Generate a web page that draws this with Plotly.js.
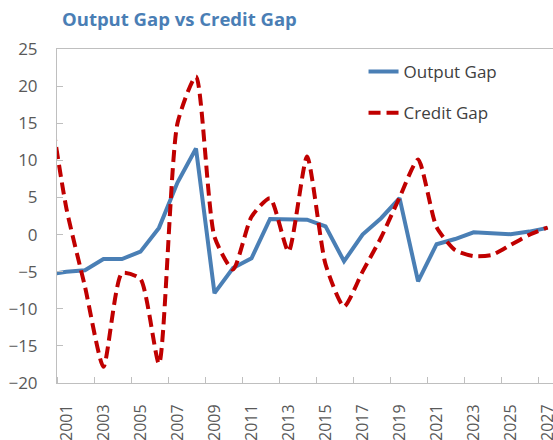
<!DOCTYPE html>
<html>
<head>
<meta charset="utf-8">
<script src="https://cdn.plot.ly/plotly-3.0.1.min.js"></script>
<style>
  html, body { margin: 0; padding: 0; overflow: hidden; background: #fff; }
  #chart { width: 553px; height: 440px; }
</style>
</head>
<body>
<div id="chart"></div>
<script>
// Years (2000 is only partly visible at the left edge, as in the reference)
const years = [2000, 2001, 2002, 2003, 2004, 2005, 2006, 2007, 2008, 2009, 2010,
               2011, 2012, 2013, 2014, 2015, 2016, 2017, 2018, 2019, 2020,
               2021, 2022, 2023, 2024, 2025, 2026, 2027];

const outputGap = [-5.4, -5.0, -4.8, -3.3, -3.3, -2.3, 0.9, 7.0, 11.6, -7.9, -4.5,
                   -3.2, 2.1, 2.1, 2.0, 1.1, -3.6, 0.0, 2.2, 4.9, -6.3,
                   -1.3, -0.6, 0.3, 0.2, 0.05, 0.4, 0.9];

const creditGap = [19.0, 3.5, -7.0, -17.8, -5.2, -6.0, -17.4, 15.0, 21.3, -0.3, -4.7,
                   2.4, 4.9, -2.3, 10.5, -4.0, -9.7, -5.0, -0.4, 5.0, 10.1,
                   1.0, -2.1, -2.9, -2.75, -1.4, -0.05, 0.95];

const xTickLabels = ["2001", "2003", "2005", "2007", "2009", "2011", "2013",
                     "2015", "2017", "2019", "2021", "2023", "2025", "2027"];
const xTickVals = xTickLabels.map(Number);
const yTickVals = [-20, -15, -10, -5, 0, 5, 10, 15, 20, 25];

const axisGray = '#bfbfbf';
const textGray = '#595959';

const traces = [
  {
    x: years, y: outputGap, name: 'Output Gap', type: 'scatter', mode: 'lines',
    legendgroup: 'a',
    line: { color: '#4a7fb5', width: 4 }
  },
  {
    x: years, y: creditGap, name: 'Credit Gap', type: 'scatter', mode: 'lines',
    legendgroup: 'b',
    line: { color: '#c00000', width: 4, dash: '12px,6px', shape: 'spline', smoothing: 0.6 }
  }
];

const layout = {
  width: 553, height: 440,
  margin: { l: 57, r: 0, t: 49, b: 57 },
  paper_bgcolor: '#ffffff', plot_bgcolor: '#ffffff',
  font: { family: '"Open Sans", sans-serif', color: textGray },
  title: {
    text: '<b>Output Gap vs Credit Gap</b>',
    font: { family: '"Open Sans", sans-serif', size: 18.5, color: '#4a7eb5' },
    xref: 'container', x: 62 / 553, xanchor: 'left',
    yref: 'container', y: 1 - 20 / 440, yanchor: 'middle'
  },
  showlegend: true,
  legend: {
    x: 0.618, y: 1 - 5 / 334, xanchor: 'left', yanchor: 'top',
    bgcolor: 'rgba(0,0,0,0)', borderwidth: 0,
    font: { family: '"Open Sans", sans-serif', size: 17, color: '#404040' },
    traceorder: 'grouped', tracegroupgap: 16
  },
  xaxis: {
    range: [2000.49, 2027.29],
    tickmode: 'array', tickvals: xTickVals, ticktext: xTickLabels,
    tickangle: -90, ticks: '', ticklabelstandoff: 14,
    ticklabeloverflow: 'allow',
    tickfont: { size: 16, color: textGray },
    minor: { tick0: 2000.5, dtick: 2, ticks: 'inside', ticklen: 6, tickcolor: axisGray, tickwidth: 1, showgrid: false },
    showline: true, linecolor: axisGray, linewidth: 1, mirror: true,
    showgrid: false, zeroline: false, fixedrange: true
  },
  yaxis: {
    range: [-20, 25],
    tickmode: 'array', tickvals: yTickVals,
    ticks: 'inside', ticklen: 6, tickcolor: axisGray, tickwidth: 1,
    ticklabelstandoff: 15,
    tickfont: { size: 17, color: textGray },
    showline: true, linecolor: axisGray, linewidth: 1,
    showgrid: false, zeroline: false, fixedrange: true
  }
};

Plotly.newPlot('chart', traces, layout, { displayModeBar: false, staticPlot: true });
</script>
</body>
</html>
